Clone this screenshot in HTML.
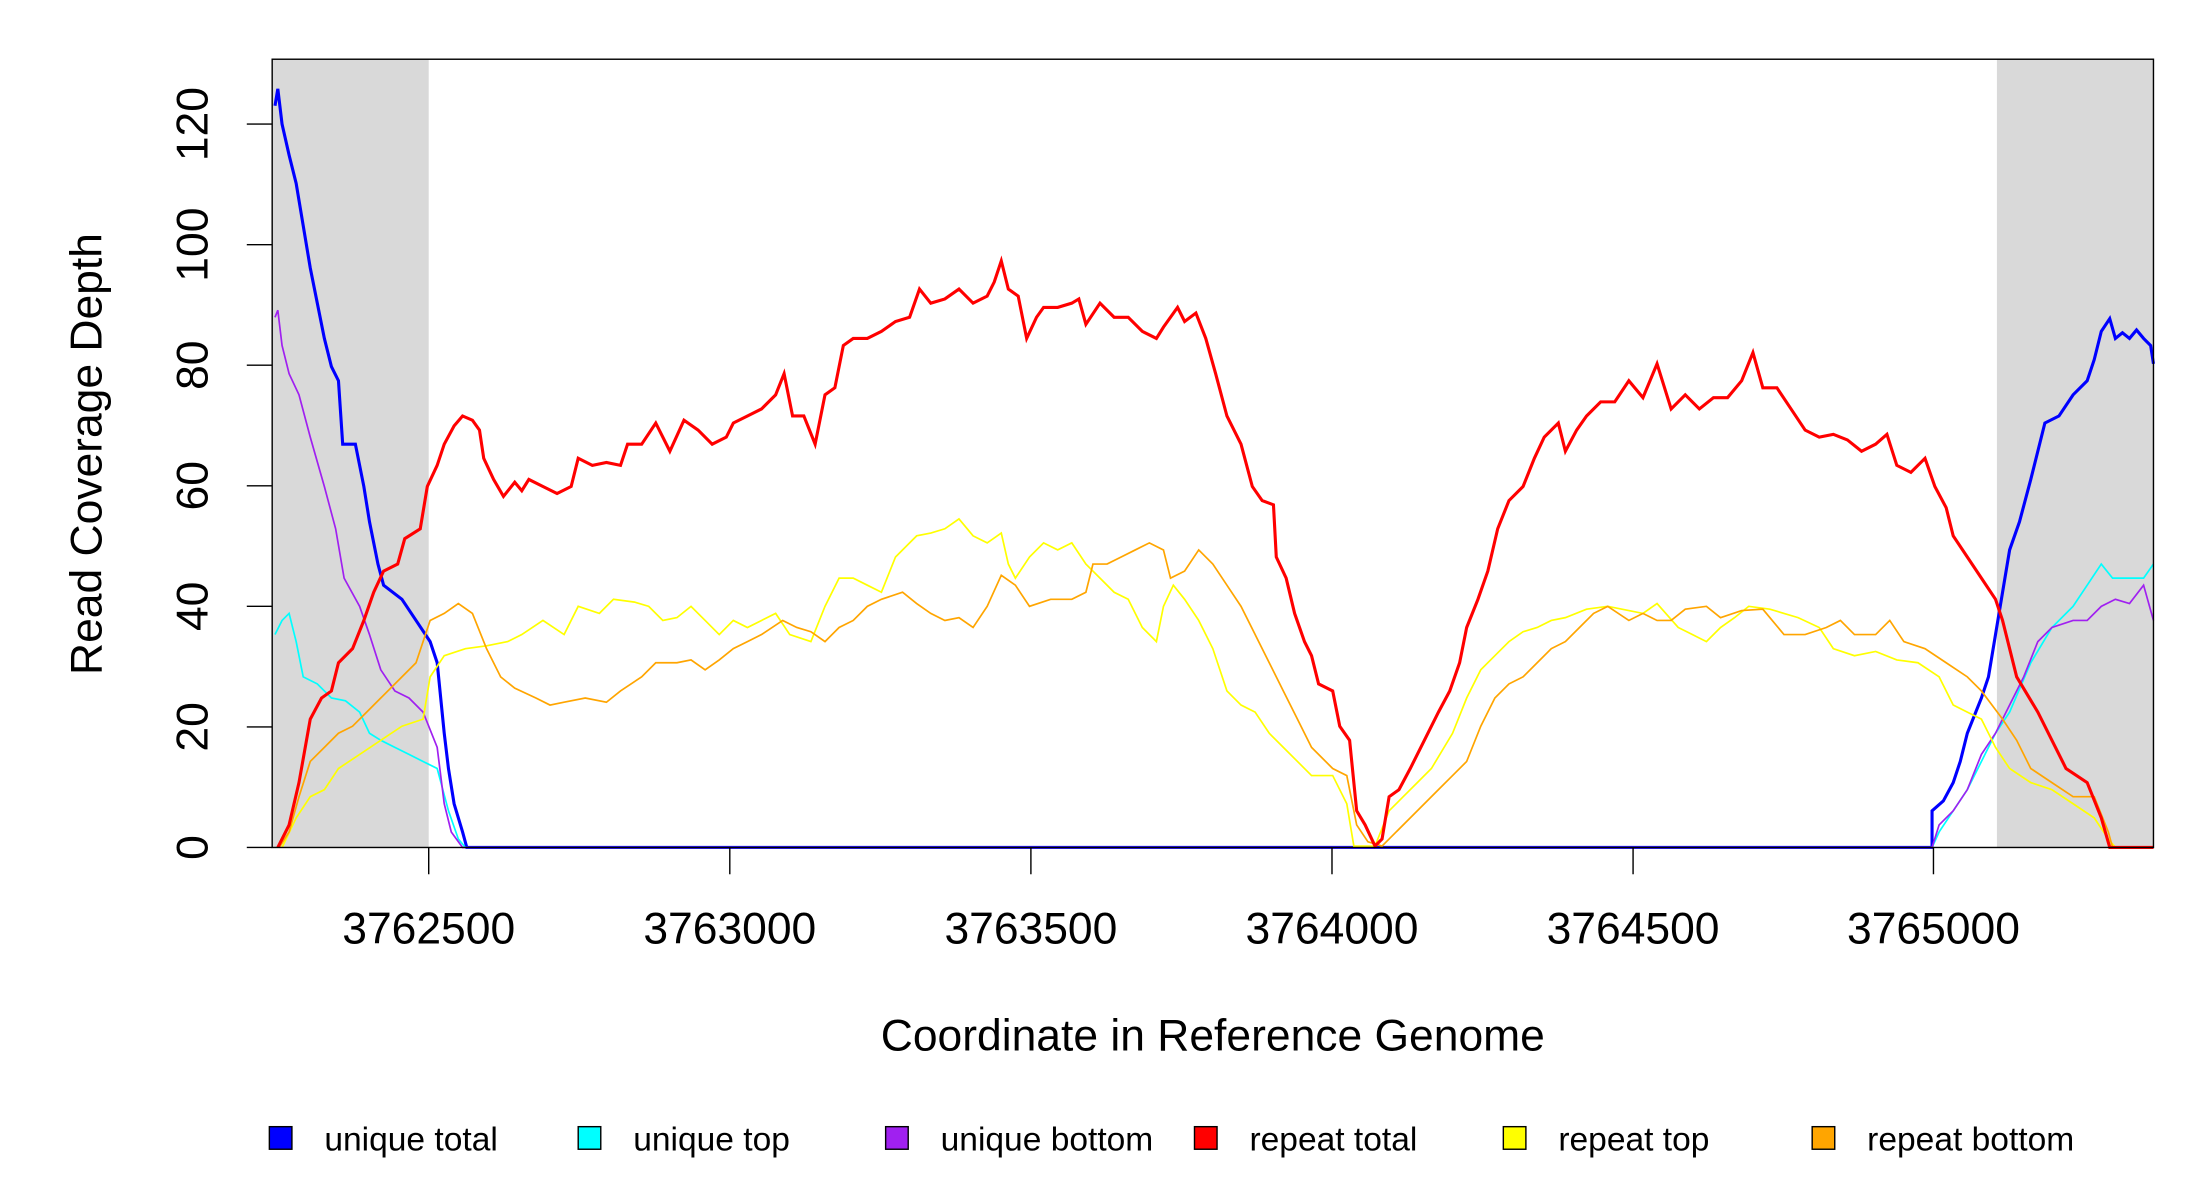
<!DOCTYPE html>
<html><head><meta charset="utf-8"><style>html,body{margin:0;padding:0;background:#fff}svg{display:block}</style></head>
<body>
<svg width="2200" height="1200" viewBox="0 0 1560 851" preserveAspectRatio="none" xmlns="http://www.w3.org/2000/svg" font-family="Liberation Sans, sans-serif">
<rect x="0" y="0" width="1560" height="851" fill="#fff"/>
<rect x="193" y="42" width="111" height="559" fill="#d9d9d9"/>
<rect x="1416" y="42" width="111" height="559" fill="#d9d9d9"/>
<g fill="none" stroke-linejoin="miter">
<polyline stroke="#0000ff" stroke-width="2.2" points="195,75 197,63 200,88 205,110 210,130 215,160 220,190 225,215 230,240 235,260 240,270 243,315 252,315 258,345 262,370 268,400 272,415 285,425 295,440 305,455 310,470 315,520 318,545 322,570 328,590 331,601 1370,601 1370,575 1378,568 1385,555 1390,540 1395,520 1405,495 1410,480 1415,450 1420,420 1425,390 1432,370 1440,340 1445,320 1450,300 1460,295 1470,280 1480,270 1485,255 1490,235 1496,226 1500,240 1505,236 1510,240 1515,234 1520,240 1525,245 1527,258"/>
<polyline stroke="#00ffff" stroke-width="1.2" points="195,450 200,440 205,435 210,455 215,480 225,485 235,495 245,497 255,505 262,520 270,525 280,530 290,535 300,540 310,545 318,575 325,595 330,601 1370,601 1375,590 1385,575 1395,560 1405,540 1415,520 1425,505 1440,470 1455,445 1470,430 1480,415 1490,400 1498,410 1510,410 1520,410 1527,400"/>
<polyline stroke="#a020f0" stroke-width="1.2" points="195,225 197,220 200,245 205,265 212,280 220,310 230,345 238,375 244,410 255,430 262,450 270,475 280,490 290,495 300,505 310,530 315,570 320,590 328,601 1370,601 1375,585 1385,575 1395,560 1405,535 1415,520 1425,500 1435,480 1445,455 1455,445 1470,440 1480,440 1490,430 1500,425 1510,428 1520,415 1527,440"/>
<polyline stroke="#ffff00" stroke-width="1.2" points="200,601 210,580 220,565 230,560 240,545 255,535 270,525 285,515 300,510 305,480 315,465 330,460 345,458 360,455 370,450 385,440 400,450 410,430 425,435 435,425 450,427 460,430 470,440 480,438 490,430 500,440 510,450 520,440 530,445 540,440 550,435 560,450 575,455 585,430 595,410 605,410 615,415 625,420 635,395 645,385 650,380 660,378 670,375 680,368 690,380 700,385 710,378 715,400 720,410 730,395 740,385 750,390 760,385 770,400 780,410 790,420 800,425 810,445 820,455 825,430 832,415 840,425 850,440 860,460 870,490 880,500 890,505 900,520 910,530 920,540 930,550 945,550 955,570 960,600 975,600 985,575 995,565 1005,555 1015,545 1030,520 1040,495 1050,475 1060,465 1070,455 1080,448 1090,445 1100,440 1110,438 1125,432 1140,430 1155,433 1165,435 1175,428 1190,445 1200,450 1210,455 1220,445 1230,438 1240,430 1255,432 1265,435 1275,438 1290,445 1300,460 1315,465 1330,462 1345,468 1360,470 1375,480 1385,500 1395,505 1405,510 1415,530 1425,545 1440,555 1455,560 1470,570 1485,580 1495,595 1500,601 1527,601"/>
<polyline stroke="#ffa500" stroke-width="1.2" points="198,601 205,590 212,565 220,540 230,530 240,520 250,515 260,505 270,495 285,480 295,470 305,440 315,435 325,428 335,435 345,460 355,480 365,488 380,495 390,500 400,498 415,495 430,498 440,490 455,480 465,470 480,470 490,468 500,475 510,468 520,460 530,455 540,450 555,440 565,445 575,448 585,455 595,445 605,440 615,430 625,425 640,420 650,428 660,435 670,440 680,438 690,445 700,430 710,408 720,415 730,430 745,425 760,425 770,420 775,400 785,400 795,395 805,390 815,385 825,390 830,410 840,405 850,390 860,400 870,415 880,430 890,450 900,470 910,490 920,510 930,530 945,545 955,550 962,585 970,597 980,600 990,590 1000,580 1010,570 1020,560 1030,550 1040,540 1050,515 1060,495 1070,485 1080,480 1090,470 1100,460 1110,455 1120,445 1130,435 1140,430 1155,440 1165,435 1175,440 1185,440 1195,432 1210,430 1220,438 1235,433 1250,432 1265,450 1280,450 1295,445 1305,440 1315,450 1330,450 1340,440 1350,455 1365,460 1380,470 1395,480 1405,490 1420,510 1430,525 1440,545 1455,555 1470,565 1485,565 1495,590 1498,601 1527,601"/>
<polyline stroke="#ff0000" stroke-width="2.2" points="197,601 205,585 212,555 220,510 228,495 235,490 240,470 250,460 258,440 265,420 272,405 282,400 287,382 298,375 303,345 310,330 315,315 322,302 328,295 335,298 340,305 343,325 350,340 357,352 365,342 370,348 375,340 385,345 395,350 405,345 410,325 420,330 430,328 440,330 445,315 455,315 465,300 475,320 485,298 495,305 505,315 515,310 520,300 530,295 540,290 550,280 556,265 562,295 570,295 578,315 585,280 592,275 598,245 605,240 615,240 625,235 635,228 645,225 652,205 660,215 670,212 680,205 690,215 700,210 705,200 710,185 715,205 722,210 728,240 735,225 740,218 750,218 760,215 765,212 770,230 780,215 790,225 800,225 810,235 820,240 825,232 835,218 840,228 848,222 855,240 862,265 870,295 880,315 888,345 895,355 903,358 905,395 912,410 918,435 925,455 930,465 935,485 945,490 950,515 957,525 962,575 968,585 975,600 980,595 985,565 992,560 1000,545 1010,525 1020,505 1028,490 1035,470 1040,445 1048,425 1055,405 1062,375 1070,355 1080,345 1088,325 1095,310 1105,300 1110,320 1118,305 1125,295 1135,285 1145,285 1155,270 1165,282 1175,258 1185,290 1195,280 1205,290 1215,282 1225,282 1235,270 1243,250 1250,275 1260,275 1270,290 1280,305 1290,310 1300,308 1310,312 1320,320 1330,315 1338,308 1345,330 1355,335 1365,325 1372,345 1380,360 1385,380 1395,395 1405,410 1415,425 1420,440 1430,480 1445,505 1455,525 1465,545 1480,555 1490,580 1496,601 1527,601"/>
</g>
<rect x="193" y="42" width="1334" height="559" fill="none" stroke="#000" stroke-width="1"/>
<g stroke="#000" stroke-width="1">
<line x1="175" y1="601" x2="193" y2="601"/><line x1="175" y1="515.5" x2="193" y2="515.5"/><line x1="175" y1="430" x2="193" y2="430"/><line x1="175" y1="344.5" x2="193" y2="344.5"/><line x1="175" y1="259" x2="193" y2="259"/><line x1="175" y1="173.5" x2="193" y2="173.5"/><line x1="175" y1="88" x2="193" y2="88"/>
<line x1="304" y1="601" x2="304" y2="620"/><line x1="517.5" y1="601" x2="517.5" y2="620"/><line x1="731" y1="601" x2="731" y2="620"/><line x1="944.5" y1="601" x2="944.5" y2="620"/><line x1="1158" y1="601" x2="1158" y2="620"/><line x1="1371" y1="601" x2="1371" y2="620"/>
</g>
<g font-size="31.5" text-anchor="middle" fill="#000">
<text x="304" y="669">3762500</text><text x="517.5" y="669">3763000</text><text x="731" y="669">3763500</text><text x="944.5" y="669">3764000</text><text x="1158" y="669">3764500</text><text x="1371" y="669">3765000</text>
<text transform="translate(147,601) rotate(-90)">0</text>
<text transform="translate(147,515.5) rotate(-90)">20</text>
<text transform="translate(147,430) rotate(-90)">40</text>
<text transform="translate(147,344.5) rotate(-90)">60</text>
<text transform="translate(147,259) rotate(-90)">80</text>
<text transform="translate(147,173.5) rotate(-90)">100</text>
<text transform="translate(147,88) rotate(-90)">120</text>
<text x="860" y="745">Coordinate in Reference Genome</text>
<text transform="translate(72,322) rotate(-90)">Read Coverage Depth</text>
</g>
<g stroke="#000" stroke-width="1">
<rect x="191" y="799" width="16" height="16" fill="#0000ff"/>
<rect x="410" y="799" width="16" height="16" fill="#00ffff"/>
<rect x="628" y="799" width="16" height="16" fill="#a020f0"/>
<rect x="847" y="799" width="16" height="16" fill="#ff0000"/>
<rect x="1066" y="799" width="16" height="16" fill="#ffff00"/>
<rect x="1285" y="799" width="16" height="16" fill="#ffa500"/>
</g>
<g font-size="23.8" fill="#000">
<text x="230" y="816">unique total</text>
<text x="449" y="816">unique top</text>
<text x="667" y="816">unique bottom</text>
<text x="886" y="816">repeat total</text>
<text x="1105" y="816">repeat top</text>
<text x="1324" y="816">repeat bottom</text>
</g>
</svg>
</body></html>
